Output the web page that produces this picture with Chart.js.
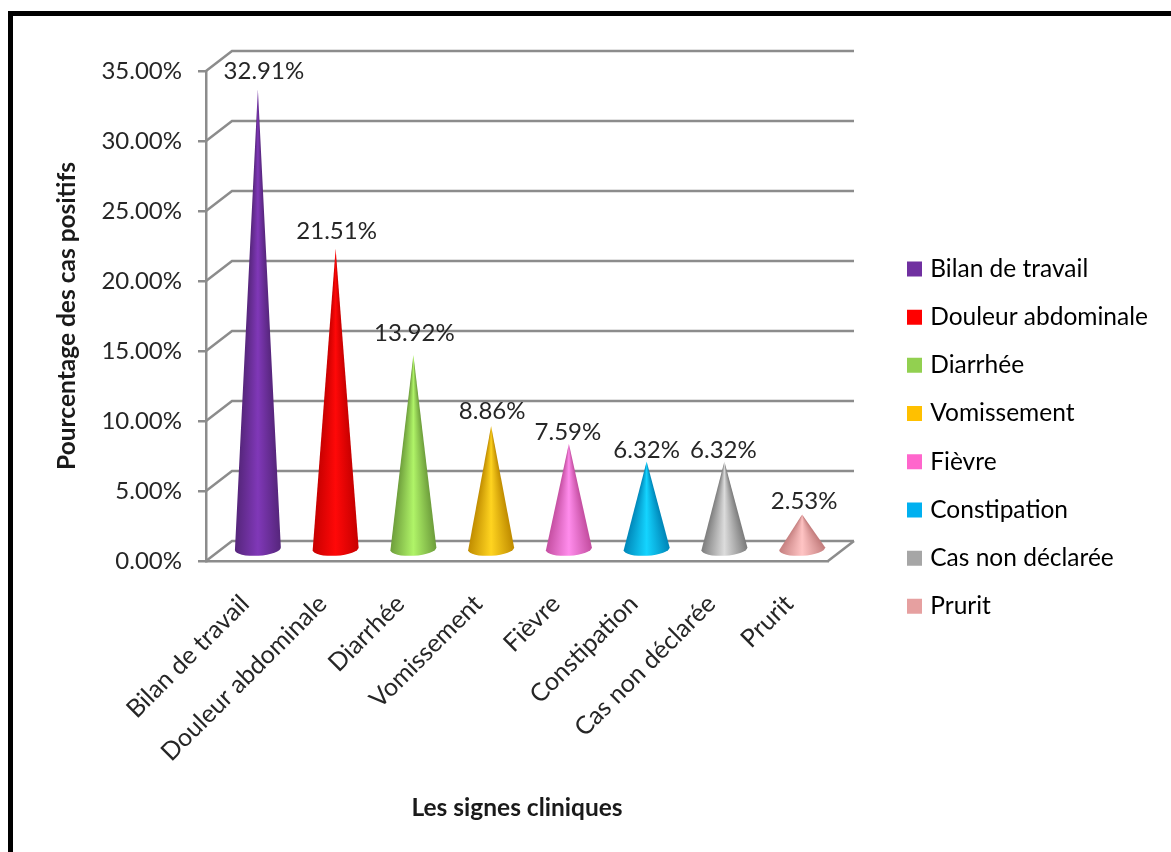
<!DOCTYPE html>
<html lang="fr">
<head>
    <meta charset="UTF-8">
    <title>Les signes cliniques</title>
    <style>
        html, body { margin: 0; padding: 0; background: #fff; overflow: hidden; }
        #frame { position: absolute; left: 8px; top: 11px; right: 0; bottom: 0; border-left: 5px solid #000; border-top: 5px solid #000; pointer-events: none; }
        canvas { position: absolute; left: 0; top: 0; }
    </style>
    <script src="https://cdn.jsdelivr.net/npm/chart.js"></script>
</head>
<body>
    <canvas id="signesChart" width="1171" height="852"></canvas>
    <div id="frame"></div>

    <script>
        const categories = ['Bilan de travail', 'Douleur abdominale', 'Diarrhée', 'Vomissement', 'Fièvre', 'Constipation', 'Cas non déclarée', 'Prurit'];
        const percentages = [32.91, 21.51, 13.92, 8.86, 7.59, 6.32, 6.32, 2.53];
        const legendColors = ['#7030a0', '#ff0000', '#92d050', '#ffc000', '#ff66cc', '#00b0f0', '#a6a6a6', '#e6a0a0'];
        const coneEdges = ['#56267c', '#c80000', '#6e9e3c', '#c08c00', '#c44ea0', '#0086b8', '#7c7c7c', '#c47e7e'];
        const coneLights = ['#8038b8', '#ff0808', '#b0f468', '#ffd420', '#ff8cec', '#14d4ff', '#dcdcdc', '#ffc4c4'];

        const FONT = 'Lato, sans-serif';
        const TEXT = '#262626';
        const GRID = '#8c8c8c';
        const DEPTH_X = 26, DEPTH_Y = 20;   // oblique offset of the back wall
        const CONE_HALF = 23, CONE_ELLIPSE = 7, CONE_TILT = 0.06;

        // hand placement of the value labels relative to each cone tip
        const labelNudge = [[6, -18], [1, -18], [1, -22], [1, -15], [-1, -11], [0, -11], [-1, -11], [2, -13]];

        // Back wall, floor and the oblique lines joining them to the front axis
        const wallsPlugin = {
            id: 'walls',
            beforeDatasetsDraw(chart) {
                const { ctx, scales: { x, y } } = chart;
                ctx.save();
                ctx.strokeStyle = GRID;
                ctx.lineWidth = 2.5;
                y.ticks.forEach(t => {
                    const py = y.getPixelForValue(t.value);
                    ctx.beginPath();
                    ctx.moveTo(x.left, py);
                    ctx.lineTo(x.left + DEPTH_X, py - DEPTH_Y);
                    ctx.lineTo(x.right + DEPTH_X, py - DEPTH_Y);
                    ctx.stroke();
                });
                const floor = y.getPixelForValue(0);
                ctx.beginPath();
                ctx.moveTo(x.right, floor);
                ctx.lineTo(x.right + DEPTH_X, floor - DEPTH_Y);
                ctx.stroke();
                ctx.restore();
            }
        };

        // Each bar element is drawn as a shaded cone, with its value above the tip.
        // The shading is redone row by row so it narrows with the cone.
        const conePlugin = {
            id: 'cones',
            afterDatasetsDraw(chart) {
                const { ctx } = chart;
                chart.getDatasetMeta(0).data.forEach((bar, i) => {
                    const cx = bar.x + DEPTH_X / 2;
                    const tip = bar.y - 11;
                    const base = bar.base - 11;
                    ctx.save();
                    ctx.beginPath();
                    ctx.moveTo(cx, tip);
                    ctx.ellipse(cx, base, CONE_HALF, CONE_ELLIPSE, -CONE_TILT, 0, Math.PI);
                    ctx.closePath();
                    ctx.clip();
                    for (let py = Math.floor(tip); py < base + CONE_ELLIPSE + 2; py++) {
                        const half = Math.max(1, CONE_HALF * Math.min(1, (py - tip) / (base - tip)));
                        const shade = ctx.createLinearGradient(cx - half, 0, cx + half, 0);
                        shade.addColorStop(0, coneEdges[i]);
                        shade.addColorStop(0.5, coneLights[i]);
                        shade.addColorStop(1, coneEdges[i]);
                        ctx.fillStyle = shade;
                        ctx.fillRect(cx - CONE_HALF - 2, py, 2 * CONE_HALF + 4, 1);
                    }
                    ctx.restore();
                    ctx.save();
                    ctx.fillStyle = TEXT;
                    ctx.font = '24px ' + FONT;
                    ctx.textAlign = 'center';
                    ctx.textBaseline = 'middle';
                    ctx.fillText(percentages[i].toFixed(2) + '%', cx + labelNudge[i][0], tip + labelNudge[i][1]);
                    ctx.restore();
                });
            }
        };

        // Keeps the legend in its own column to the right of the plot
        const legendPlacement = {
            id: 'legendPlacement',
            beforeInit(chart) {
                const fit = chart.legend.fit;
                chart.legend.fit = function () {
                    fit.call(this);
                    this.width = 343;
                };
            },
            afterLayout(chart) {
                chart.legend.left = 887.3;
                chart.legend.top = 233;
            }
        };

        new Chart(document.getElementById('signesChart'), {
            type: 'bar',
            data: {
                labels: categories,
                datasets: [{
                    data: percentages,
                    backgroundColor: 'transparent',
                    borderWidth: 0
                }]
            },
            options: {
                responsive: false,
                animation: false,
                layout: { padding: { left: 48, top: 71, right: 0, bottom: 25 } },
                plugins: {
                    tooltip: { enabled: false },
                    legend: {
                        position: 'right',
                        align: 'start',
                        labels: {
                            boxWidth: 7,
                            boxHeight: 7,
                            padding: 23.7,
                            color: TEXT,
                            font: { family: FONT, size: 24.5 },
                            generateLabels: () => categories.map((name, i) => ({
                                text: name,
                                fillStyle: legendColors[i],
                                strokeStyle: legendColors[i],
                                lineWidth: 8,
                                index: i
                            }))
                        }
                    }
                },
                scales: {
                    x: {
                        grid: { display: false },
                        border: { color: GRID, width: 2.5 },
                        ticks: {
                            minRotation: 45,
                            maxRotation: 45,
                            autoSkip: false,
                            padding: 20,
                            color: TEXT,
                            font: { family: FONT, size: 25 }
                        },
                        title: {
                            display: true,
                            text: 'Les signes cliniques',
                            color: '#1a1a1a',
                            font: { family: FONT, size: 24.5, weight: 'bold' }
                        },
                        afterFit(scale) {
                            scale.height = 266;
                            scale.paddingLeft = 0;
                            scale.paddingRight = 0;
                        }
                    },
                    y: {
                        min: 0,
                        max: 35,
                        grid: { drawOnChartArea: false, drawTicks: true, tickLength: 8, color: GRID, lineWidth: 2.5 },
                        border: { color: GRID, width: 2.5 },
                        ticks: {
                            stepSize: 5,
                            padding: 16,
                            color: TEXT,
                            font: { family: FONT, size: 24 },
                            callback: value => value.toFixed(2) + '%'
                        },
                        title: {
                            display: true,
                            text: 'Pourcentage des cas positifs',
                            color: '#1a1a1a',
                            font: { family: FONT, size: 24.5, weight: 'bold' }
                        },
                        afterFit(scale) {
                            scale.width = 158;
                        }
                    }
                }
            },
            plugins: [wallsPlugin, conePlugin, legendPlacement]
        });
    </script>
</body>
</html>
